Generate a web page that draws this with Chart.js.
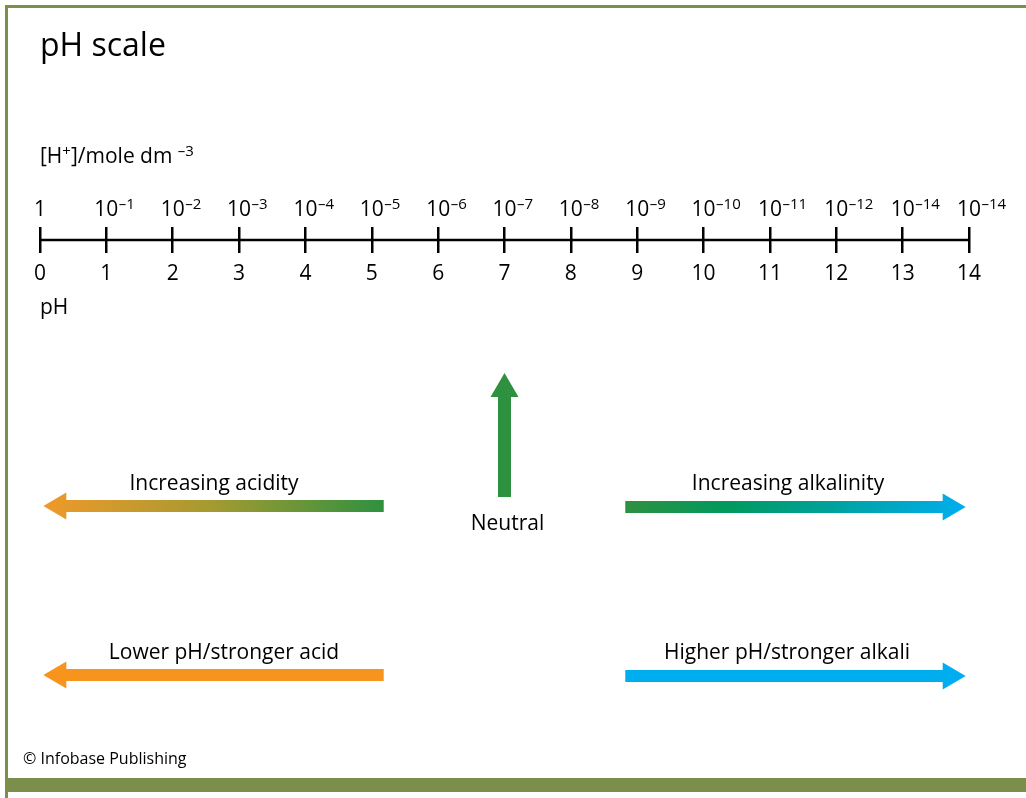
<!DOCTYPE html>
<html>
<head>
<meta charset="utf-8">
<script src="https://cdn.jsdelivr.net/npm/chart.js@4.4.1/dist/chart.umd.min.js"></script>
<style>
  html, body { margin: 0; padding: 0; background: #fff; }
  #wrap { position: relative; width: 1026px; height: 798px; }
</style>
</head>
<body>
<div id="wrap"><canvas id="phChart" width="1026" height="798"></canvas></div>
<script>
// pH scale values and matching [H+] exponents (null = 1)
const phValues = [0, 1, 2, 3, 4, 5, 6, 7, 8, 9, 10, 11, 12, 13, 14];
const hIonExponents = [null, 1, 2, 3, 4, 5, 6, 7, 8, 9, 10, 11, 12, 14, 14];

// arrow spans on the pH axis (tail, tip)
const neutralPH = 7;
const acidRange = [5.18, 0.05];
const alkaliRange = [8.82, 13.95];

const FONT = "'Open Sans', 'Noto Sans', sans-serif";
const BORDER = "#7b8f4a";
const ORANGE = "#f7941d";
const GREEN = "#2e9140";
const BLUE = "#00aeef";

// rows on the page (pixels)
const rows = { axisTop: 227, axisBottom: 253, arrow1: 506, arrow2: 675 };

function hArrow(ctx, tail, tip, y, fill) {
  const dir = tip < tail ? -1 : 1;
  const sh = 6, hh = 13.5, hl = 23;
  const base = tip - dir * hl;
  ctx.beginPath();
  ctx.moveTo(tail, y - sh);
  ctx.lineTo(base, y - sh);
  ctx.lineTo(base, y - hh);
  ctx.lineTo(tip, y);
  ctx.lineTo(base, y + hh);
  ctx.lineTo(base, y + sh);
  ctx.lineTo(tail, y + sh);
  ctx.closePath();
  ctx.fillStyle = fill;
  ctx.fill();
}

function supText(ctx, parts, x, y) {
  // parts: [text, isSuper]
  parts.forEach(([t, sup]) => {
    ctx.font = (sup ? "15px " : "21px ") + FONT;
    ctx.fillText(t, x, sup ? y - 7 : y);
    x += ctx.measureText(t).width;
  });
}

const decor = {
  id: "decor",
  afterDraw(chart) {
    const ctx = chart.ctx;
    const xs = chart.scales.x;
    const px = v => xs.getPixelForValue(v);
    ctx.save();

    // frame
    ctx.fillStyle = BORDER;
    ctx.fillRect(5, 5, 1021, 3);
    ctx.fillRect(5, 5, 3, 793);
    ctx.fillRect(5, 778, 1021, 14);

    ctx.fillStyle = "#000";
    ctx.textBaseline = "alphabetic";
    ctx.textAlign = "left";
    ctx.font = "32px " + FONT;
    ctx.fillText("pH scale", 40, 56);

    supText(ctx, [["[H", false], ["+", true], ["]/mole dm ", false], ["\u2013" + "3", true]], 40, 163);

    // [H+] labels above the ticks
    phValues.forEach((v, i) => {
      const x = px(v);
      const e = hIonExponents[i];
      ctx.font = "21px " + FONT;
      if (e === null) {
        ctx.textAlign = "center";
        ctx.fillText("1", x, 216);
        ctx.textAlign = "left";
        return;
      }
      const w = ctx.measureText("10").width;
      ctx.fillText("10", x - w / 2, 216);
      ctx.font = "15px " + FONT;
      ctx.fillText("\u2013" + e, x + w / 2 + 0.5, 209);
    });

    ctx.font = "21px " + FONT;
    ctx.fillText("pH", 40, 314);

    // arrows
    const aT = px(acidRange[0]), aH = px(acidRange[1]);
    let g = ctx.createLinearGradient(aH, 0, aT, 0);
    g.addColorStop(0, "#f0992a");
    g.addColorStop(0.5, "#a49a31");
    g.addColorStop(1, GREEN);
    hArrow(ctx, aT, aH, rows.arrow1, g);
    hArrow(ctx, aT, aH, rows.arrow2, ORANGE);

    const kT = px(alkaliRange[0]), kH = px(alkaliRange[1]);
    g = ctx.createLinearGradient(kT, 0, kH, 0);
    g.addColorStop(0, GREEN);
    g.addColorStop(0.3, "#00995e");
    g.addColorStop(0.65, "#00a3a6");
    g.addColorStop(1, BLUE);
    hArrow(ctx, kT, kH, rows.arrow1 + 1, g);
    hArrow(ctx, kT, kH, rows.arrow2 + 1, BLUE);

    // neutral arrow
    const nx = px(neutralPH);
    ctx.fillStyle = GREEN;
    ctx.beginPath();
    ctx.moveTo(nx - 6.5, 497);
    ctx.lineTo(nx - 6.5, 397);
    ctx.lineTo(nx - 14, 397);
    ctx.lineTo(nx, 373);
    ctx.lineTo(nx + 14, 397);
    ctx.lineTo(nx + 6.5, 397);
    ctx.lineTo(nx + 6.5, 497);
    ctx.closePath();
    ctx.fill();

    ctx.fillStyle = "#000";
    ctx.textAlign = "center";
    ctx.font = "21px " + FONT;
    ctx.fillText("Increasing acidity", 214, 490);
    ctx.fillText("Increasing alkalinity", 788, 490);
    ctx.fillText("Neutral", nx + 3, 530);
    ctx.fillText("Lower pH/stronger acid", 224, 659);
    ctx.fillText("Higher pH/stronger alkali", 787, 659);

    ctx.textAlign = "left";
    ctx.font = "16px " + FONT;
    ctx.fillText("\u00a9 Infobase Publishing", 23, 764);
    ctx.restore();
  }
};

new Chart(document.getElementById("phChart"), {
  type: "line",
  data: {
    datasets: [{
      data: [{ x: phValues[0], y: 0 }, { x: phValues[phValues.length - 1], y: 0 }],
      borderColor: "#000",
      borderWidth: 2.5,
      pointRadius: 0
    }]
  },
  options: {
    responsive: false,
    animation: false,
    events: [],
    layout: { padding: { left: 40, right: 57, top: rows.axisTop, bottom: 0 } },
    plugins: { legend: { display: false }, tooltip: { enabled: false } },
    scales: {
      x: {
        type: "linear",
        min: phValues[0],
        max: phValues[phValues.length - 1],
        afterBuildTicks: s => { s.ticks = phValues.map(v => ({ value: v })); },
        afterFit: s => { s.height = 798 - rows.axisBottom; },
        border: { display: false },
        grid: { color: "#000", lineWidth: 2.5, drawTicks: false },
        ticks: { color: "#000", font: { family: FONT, size: 21 }, padding: 8, autoSkip: false, maxRotation: 0 }
      },
      y: { display: false, min: -1, max: 1 }
    }
  },
  plugins: [decor]
});
</script>
</body>
</html>
